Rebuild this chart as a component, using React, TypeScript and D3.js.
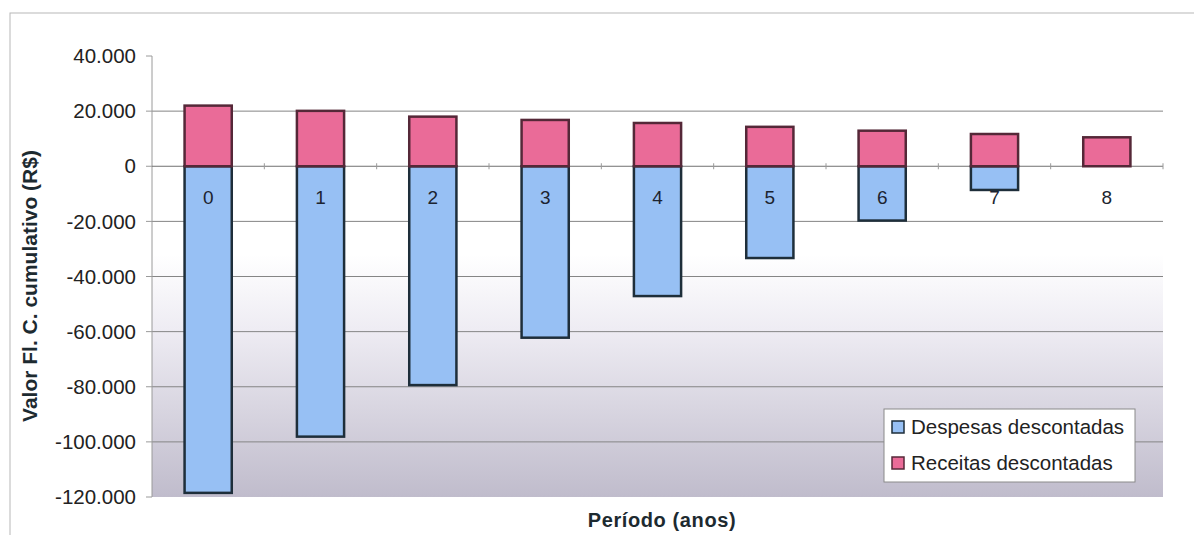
import React from "react";
import * as d3 from "d3";

const categories = ["0", "1", "2", "3", "4", "5", "6", "7", "8"];
const despesas = [-118500, -98100, -79400, -62200, -47100, -33300, -19700, -8600, 0];
const receitas = [22000, 20100, 18000, 16800, 15700, 14300, 12900, 11700, 10500];
const yTicks = [40000, 20000, 0, -20000, -40000, -60000, -80000, -100000, -120000];
const gridValues = [20000, -20000, -40000, -60000, -80000, -100000];
const seriesNames = ["Despesas descontadas", "Receitas descontadas"];

const W = 1194;
const H = 535;
const plot = { left: 152, right: 1163, top: 56, bottom: 497 };

const fmt = (v: number) => {
  if (v === 0) return "0";
  const s = d3.format(",")(Math.abs(v)).replace(/,/g, ".");
  return (v < 0 ? "-" : "") + s;
};

export default function App() {
  const x = d3
    .scaleBand<string>()
    .domain(categories)
    .range([plot.left, plot.right])
    .paddingInner(0.58)
    .paddingOuter(0.29);
  const y = d3.scaleLinear().domain([-120000, 40000]).range([plot.bottom, plot.top]);
  const band = (plot.right - plot.left) / categories.length;
  const font = "Arial, 'Liberation Sans', sans-serif";
  const blue = "#97c0f4";
  const blueStroke = "#1e2e3a";
  const pink = "#ea6b98";
  const pinkStroke = "#552838";

  return (
    <svg
      width={W}
      height={H}
      style={{ position: "absolute", left: 0, top: 0, background: "#fff" }}
      fontFamily={font}
    >
      <defs>
        <linearGradient id="bg" x1="0" y1="0" x2="0" y2="1">
          <stop offset="0" stopColor="#ffffff" />
          <stop offset="0.45" stopColor="#ffffff" />
          <stop offset="0.62" stopColor="#eeecf3" />
          <stop offset="1" stopColor="#c0bccc" />
        </linearGradient>
      </defs>
      <rect x={10} y={13} width={1200} height={560} fill="none" stroke="#b8b8b8" strokeWidth={1} />
      <rect
        x={plot.left}
        y={plot.top}
        width={plot.right - plot.left}
        height={plot.bottom - plot.top}
        fill="url(#bg)"
      />
      {gridValues.map((v) => (
        <line
          key={"g" + v}
          x1={plot.left}
          x2={plot.right}
          y1={y(v)}
          y2={y(v)}
          stroke="#858585"
          strokeWidth={1}
        />
      ))}
      {/* y axis */}
      <line x1={plot.left} x2={plot.left} y1={plot.top} y2={plot.bottom} stroke="#9a9a9a" strokeWidth={1} />
      {yTicks.map((v) => (
        <g key={"t" + v}>
          <line x1={plot.left - 6} x2={plot.left} y1={y(v)} y2={y(v)} stroke="#9a9a9a" />
          <text
            x={plot.left - 16}
            y={y(v)}
            dy="0.35em"
            textAnchor="end"
            fontSize={20.5}
            fill="#222"
          >
            {fmt(v)}
          </text>
        </g>
      ))}
      {/* zero axis */}
      <line x1={plot.left} x2={plot.right} y1={y(0)} y2={y(0)} stroke="#707070" strokeWidth={1} />
      {categories.map((c, i) => (
        <line
          key={"xt" + c}
          x1={plot.left + band * (i + 1)}
          x2={plot.left + band * (i + 1)}
          y1={y(0) - 3}
          y2={y(0) + 3}
          stroke="#9a9a9a"
        />
      ))}
      {/* bars */}
      {categories.map((c, i) => (
        <g key={"b" + c}>
          {despesas[i] < 0 && (
            <rect
              x={x(c)!}
              y={y(0)}
              width={x.bandwidth()}
              height={y(despesas[i]) - y(0)}
              fill={blue}
              stroke={blueStroke}
              strokeWidth={2.5}
            />
          )}
          <rect
            x={x(c)!}
            y={y(receitas[i])}
            width={x.bandwidth()}
            height={y(0) - y(receitas[i])}
            fill={pink}
            stroke={pinkStroke}
            strokeWidth={2.5}
          />
        </g>
      ))}
      {categories.map((c) => (
        <text
          key={"l" + c}
          x={x(c)! + x.bandwidth() / 2}
          y={y(0) + 31}
          dy="0.35em"
          textAnchor="middle"
          fontSize={19}
          fill="#1c2430"
        >
          {c}
        </text>
      ))}
      {/* titles */}
      <text
        x={662}
        y={527}
        textAnchor="middle"
        fontSize={20}
        fontWeight="bold"
        fill="#1d2a30"
        letterSpacing={0.6}
      >
        Período (anos)
      </text>
      <text
        transform={`translate(37,${(145 + 427) / 2}) rotate(-90)`}
        textAnchor="middle"
        fontSize={21}
        fontWeight="bold"
        fill="#1d2a30"
      >
        Valor Fl. C. cumulativo (R$)
      </text>
      {/* legend */}
      <g>
        <rect x={884} y={409} width={251} height={73} fill="#fff" stroke="#8a8a8a" strokeWidth={1} />
        {seriesNames.map((n, i) => (
          <g key={n}>
            <rect
              x={892}
              y={(i === 0 ? 427 : 463) - 6}
              width={12}
              height={12}
              fill={i === 0 ? blue : pink}
              stroke={i === 0 ? blueStroke : pinkStroke}
              strokeWidth={1.5}
            />
            <text x={911} y={i === 0 ? 427 : 463} dy="0.35em" fontSize={20.5} fill="#222">
              {n}
            </text>
          </g>
        ))}
      </g>
    </svg>
  );
}
